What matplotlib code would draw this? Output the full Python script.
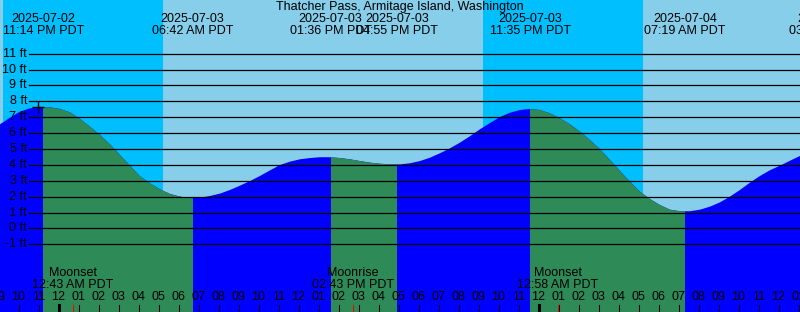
import numpy as np
import pandas as pd
import matplotlib
matplotlib.use("Agg")
import matplotlib.pyplot as plt

plt.rcParams['font.family'] = ['Liberation Sans', 'DejaVu Sans']

# Tide height (ft), read every half hour off the chart
sample_start = "2025-07-02 21:04:30"
heights = [6.55, 6.97, 7.35, 7.56, 7.65, 7.62, 7.52, 7.30, 6.89, 6.40,
           5.88, 5.29, 4.62, 3.95, 3.28, 2.84, 2.46, 2.17, 2.00, 1.91,
           1.93, 2.04, 2.19, 2.42, 2.69, 2.98, 3.30, 3.65, 3.99, 4.20,
           4.35, 4.43, 4.48, 4.48, 4.43, 4.35, 4.24, 4.14, 4.07, 4.03,
           4.03, 4.10, 4.24, 4.45, 4.73, 5.04, 5.40, 5.80, 6.24, 6.63,
           7.01, 7.28, 7.45, 7.52, 7.45, 7.24, 6.93, 6.55, 6.09, 5.56,
           4.98, 4.30, 3.61, 2.94, 2.31, 1.85, 1.47, 1.18, 1.08, 1.08,
           1.18, 1.37, 1.64, 2.00, 2.42, 2.88, 3.30, 3.66, 3.95, 4.26,
           4.56]
times = pd.date_range(sample_start, periods=len(heights), freq="30min")

# high / low tides
tide_times = ["2025-07-02 23:14", "2025-07-03 06:42", "2025-07-03 13:36",
              "2025-07-03 16:55", "2025-07-03 23:35", "2025-07-04 07:19",
              "2025-07-04 14:33"]
tide_dates = ["2025-07-02", "2025-07-03", "2025-07-03", "2025-07-03",
              "2025-07-03", "2025-07-04", "2025-07-04"]
tide_labels = ["11:14 PM PDT", "06:42 AM PDT", "01:36 PM PDT", "04:55 PM PDT",
               "11:35 PM PDT", "07:19 AM PDT", "03:02 PM PDT"]
# ebb periods (high -> low)
ebb = [("2025-07-02 23:14", "2025-07-03 06:42"),
       ("2025-07-03 13:36", "2025-07-03 16:55"),
       ("2025-07-03 23:35", "2025-07-04 07:19")]

# night periods (sunset -> sunrise)
nights = [("2025-07-02 21:14", "2025-07-03 05:14"),
          ("2025-07-03 21:14", "2025-07-04 05:14")]

moon_times = ["2025-07-03 00:43", "2025-07-03 14:43", "2025-07-04 00:58"]
moon_names = ["Moonset", "Moonrise", "Moonset"]
moon_labels = ["12:43 AM PDT", "02:43 PM PDT", "12:58 AM PDT"]

mark_time = "2025-07-02 22:58"
mark_height = 7.66

title = "Thatcher Pass, Armitage Island, Washington"

W, H = 800, 312
DAY, NIGHT = "#87CEEB", "#00BFFF"
FLOOD, EBB = "#0000FF", "#2E8B57"

t_start = pd.Timestamp("2025-07-02 21:04:30")
t_end = pd.Timestamp("2025-07-04 13:04:30")

fig = plt.figure(figsize=(8, 3.12), dpi=100, facecolor=DAY)
ax = fig.add_axes([0, 0, 1, 1])
ax.set_xlim(t_start, t_end)
ax.set_ylim(-5.26, 14.375)
ax.axis("off")


def yf(px):
    return 1 - px / H


ax.axvspan(t_start, t_end, color=DAY, lw=0, zorder=0)
for a, b in nights:
    ax.axvspan(pd.Timestamp(a), pd.Timestamp(b), color=NIGHT, lw=0, zorder=0)

poly = ax.fill_between(times, heights, -10, color=FLOOD, lw=0, zorder=1)
clip = poly.get_paths()[0]
for a, b in ebb:
    sp = ax.axvspan(pd.Timestamp(a), pd.Timestamp(b), color=EBB, lw=0, zorder=2)
    sp.set_clip_path(clip, ax.transData)

# feet grid and labels
ytr = ax.get_yaxis_transform()
for ft in range(-1, 12):
    ax.axhline(ft, xmin=29 / W, xmax=1, color="black", lw=0.9, zorder=3)
    ax.text(27 / W, ft, f"{ft} ft", transform=ytr, ha="right", va="center",
            fontsize=9, zorder=4)

xtr = ax.get_xaxis_transform()
ax.text(0.5, yf(7), title, transform=ax.transAxes, ha="center", va="center", fontsize=9)
for t, d, lab in zip(tide_times, tide_dates, tide_labels):
    ts = pd.Timestamp(t)
    ax.text(ts, yf(19.5), d, transform=xtr, ha="center", va="center", fontsize=9)
    ax.text(ts, yf(31.5), lab, transform=xtr, ha="center", va="center", fontsize=9)

# hour ticks along the bottom
hours = pd.date_range("2025-07-02 21:00", "2025-07-04 13:00", freq="h")
for h in hours:
    lw = 2.2 if h.hour == 0 else 0.75
    ax.axvline(h, ymin=0, ymax=7 / H, color="black", lw=lw, zorder=5)
    ax.text(h, yf(297.5), h.strftime("%I"), transform=xtr, ha="center", va="center",
            fontsize=9, zorder=5)

for t, name, lab in zip(moon_times, moon_names, moon_labels):
    ts = pd.Timestamp(t)
    ax.axvline(ts, ymin=0, ymax=7 / H, color="red", lw=0.75, zorder=6)
    ax.text(ts, yf(273), name, transform=xtr, ha="center", va="center", fontsize=9)
    ax.text(ts, yf(285), lab, transform=xtr, ha="center", va="center", fontsize=9)

ax.plot(pd.Timestamp(mark_time), mark_height, marker="+", ms=8, mew=1,
        color="black", zorder=6)

fig.savefig("out.png", dpi=100, facecolor=DAY)
